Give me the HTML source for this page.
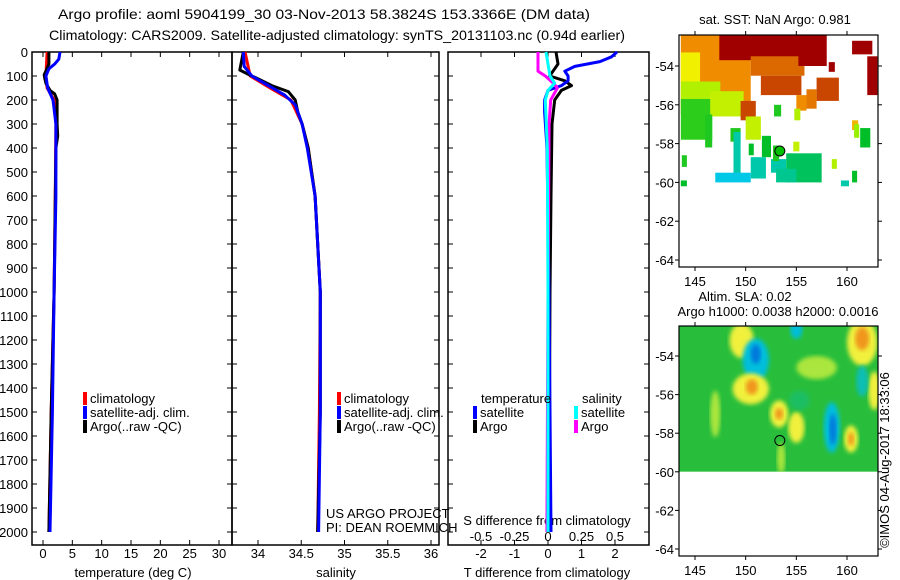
<!DOCTYPE html>
<html><head><meta charset="utf-8"><style>
body{margin:0;background:#fff}
svg{display:block;font-family:"Liberation Sans",sans-serif}
</style></head><body>
<svg id="c" width="900" height="580" viewBox="0 0 900 580" xmlns="http://www.w3.org/2000/svg">
<text x="58" y="19" font-size="14" textLength="532" lengthAdjust="spacingAndGlyphs">Argo profile: aoml 5904199_30 03-Nov-2013 58.3824S 153.3366E (DM data)</text>
<text x="49" y="40" font-size="14" textLength="576" lengthAdjust="spacingAndGlyphs">Climatology: CARS2009. Satellite-adjusted climatology: synTS_20131103.nc (0.94d earlier)</text>
<text x="133" y="577" font-size="13" text-anchor="middle">temperature (deg C)</text>
<text x="336" y="577" font-size="13" text-anchor="middle">salinity</text>
<text x="547" y="577" font-size="13" text-anchor="middle">T difference from climatology</text>
<text x="547" y="525" font-size="13" text-anchor="middle">S difference from climatology</text>
<text x="326" y="518" font-size="13">US ARGO PROJECT</text>
<text x="326" y="532" font-size="13">PI: DEAN ROEMMICH</text>
<text x="775" y="24" font-size="13" text-anchor="middle">sat. SST: NaN Argo: 0.981</text>
<text x="745" y="301" font-size="13" text-anchor="middle">Altim. SLA: 0.02</text>
<text x="778" y="316" font-size="13" text-anchor="middle">Argo h1000: 0.0038 h2000: 0.0016</text>
<text x="0" y="0" font-size="13" text-anchor="middle" transform="translate(889,460) rotate(-90)">©IMOS 04-Aug-2017 18:33:06</text>
<g id="g"></g>
</svg>
<script>
// ---- profile data ----
const tempDepthArgo=[0,50,80,95,110,130,160,175,200,250,300,350,400,600,1000,1500,2000];
const tempArgo=[1.0,1.0,0.5,0.2,0.3,0.5,1.2,2.0,2.4,2.4,2.4,2.5,2.2,2.1,1.9,1.4,1.0];
const tempDepthSat=[0,30,50,70,100,150,200,300,600,1000,1500,2000];
const tempSat=[2.9,2.7,2.0,1.0,0.5,0.8,1.7,2.2,2.2,1.9,1.6,1.2];
const tempDepthClim=[0,100,150,200,300,600,1000,1500,2000];
const tempClim=[0.7,0.5,0.7,1.9,2.2,2.1,1.9,1.4,1.0];
const salDepthArgo=[0,75,90,110,140,165,200,250,300,400,500,600,800,1000,1500,2000];
const salArgo=[33.83,33.79,33.87,33.99,34.16,34.35,34.43,34.46,34.51,34.58,34.62,34.66,34.69,34.72,34.72,34.69];
const salDepthSat=[0,60,100,140,180,220,300,400,600,1000,1500,2000];
const salSat=[33.83,33.84,33.93,34.12,34.31,34.43,34.51,34.57,34.66,34.72,34.72,34.70];
const salDepthClim=[0,100,150,200,300,400,600,1000,1500,2000];
const salClim=[33.85,33.91,34.14,34.38,34.51,34.58,34.66,34.72,34.71,34.69];
const dTDepthSat=[0,20,40,60,80,100,120,140,160,200,250,400,1000,2000];
const dTSat=[2.06,1.9,1.55,0.8,0.5,0.6,0.6,0.4,0,-0.1,-0.1,-0.03,0.03,0.09];
const dTDepthArgo=[0,50,80,100,120,140,160,200,300,600,1000,2000];
const dTArgo=[0.24,0.3,0.15,0.05,0.5,0.7,0.4,0.2,0.12,0.09,0.06,0.03];
const dSDepthSat=[0,100,130,160,200,400,1000,2000];
const dSSat=[-0.015,0.015,0.05,0,-0.02,-0.005,0,0];
const dSDepthArgo=[0,80,100,130,150,200,300,1000,2000];
const dSArgo=[-0.075,-0.075,-0.02,0.04,0.07,0.02,0.008,0,-0.008];
const depthTicks=[0,100,200,300,400,500,600,700,800,900,1000,1100,1200,1300,1400,1500,1600,1700,1800,1900,2000];
const tTicks=[0,5,10,15,20,25,30];
const sTicks=[34,34.5,35,35.5,36];
const dTTicks=[-2,-1,0,1,2];
const dSTicks=[-0.5,-0.25,0,0.25,0.5];
// ---- map data: [lon0, lon1, latTop, latBottom, SST] ----
const sstPatches=[
[143.6,150.5,-52.2,-56.5,7],[147.4,156.0,-52.2,-53.7,9],[150.5,155.8,-53.5,-54.5,7.5],[151.5,155.5,-54.5,-55.5,8],
[143.6,145.5,-53.3,-54.8,6],[143.6,147.5,-54.8,-56.2,5.3],[143.6,146.7,-55.7,-57.8,4.3],[146.5,149.8,-55.3,-56.6,5.5],
[149.5,151,-55.8,-56.8,8],[155.2,158,-52.2,-54.0,9],[160.5,162.5,-52.7,-53.4,9],[162,163,-53.5,-55.5,9],[158.2,158.8,-53.8,-54.3,9],
[157,159.2,-54.6,-55.8,8],[155,156,-55.5,-56.3,7],[156,157,-55.2,-56.2,7.3],[160.5,161.1,-56.8,-57.3,6.6],[152.8,153.5,-56,-56.6,4.2],
[154.8,155.4,-56.2,-56.8,5.3],[150,151.5,-56.6,-57.8,5.5],[148.5,149.5,-57.2,-57.9,4.2],[151.6,152.5,-57.6,-58.7,4.0],
[148.8,149.5,-57.4,-59.8,3.0],[150.3,150.8,-58,-58.6,4.0],[150.5,152,-58.7,-59.8,3],[147,150.5,-59.5,-60,2],[152.5,154,-58.8,-59.5,3],
[154,157.5,-58.5,-60,3.6],[153,155,-59.3,-60,3.2],[154.7,155.3,-57.9,-58.4,5.5],[161.3,162.3,-57.2,-58.2,4.0],[160.7,161.2,-57,-57.7,5],
[143.7,144.2,-58.6,-59.2,4.2],[143.6,144.2,-59.9,-60.2,4],[159.4,160.2,-59.9,-60.2,3],[160.5,161,-59.4,-60,4],[158.5,159,-58.8,-59.3,5.3],
[146,146.7,-56.5,-58.2,4.2],[152.7,153.3,-58.1,-58.9,4.2]];
// SLA blobs: [lon, lat, rxDeg, ryDeg, SLA]
const slaBlobs=[
[149.6,-53.2,1.2,0.9,0.2],[151,-54.2,1.3,1.1,-0.2],[151,-53.9,0.5,0.5,-0.3],[150.5,-55.7,1.8,0.8,0.2],[150.6,-55.6,0.6,0.4,0.3],
[153.3,-57.0,0.9,0.7,0.2],[153.3,-57.0,0.4,0.3,0.3],[155,-57.7,0.8,0.8,0.2],[158.5,-57.7,0.8,1.3,-0.2],[158.6,-57.8,0.35,0.8,-0.3],
[160.4,-58.3,0.7,0.7,0.2],[160.4,-58.3,0.3,0.35,0.3],[161.5,-53.3,1.5,1.2,0.2],[161.5,-53.1,0.7,0.6,0.3],[162.7,-55.8,0.6,1,0.2],
[155,-52.6,0.6,0.5,-0.2],[157,-54.6,2,0.6,0.1],[161.5,-55.3,0.6,0.8,-0.15],[155.3,-56.3,1,0.5,-0.05],[147,-57,0.5,1.2,0.1],[153.5,-59.3,0.4,0.8,0.1]];
const argoLon=153.37, argoLat=-58.38;

const NS='http://www.w3.org/2000/svg';
const G=document.getElementById('g');
function mk(tag,attrs,parent){const e=document.createElementNS(NS,tag);for(const k in attrs)e.setAttribute(k,attrs[k]);(parent||G).appendChild(e);return e;}
const Y0=52,YB=545;
const yD=d=>Y0+d*0.24;
function linear(d0,d1,r0,r1){return v=>r0+(v-d0)*(r1-r0)/(d1-d0);}
const xT=linear(0,30,43,219), xS=linear(34,36,258,431), xDT=linear(0,1,548,581.5), xDS=linear(0,0.25,548,581.5);

function panel(name,x0,x1,ticks,xf,labels){
  const r=mk('rect',{x:x0,y:Y0,width:x1-x0,height:YB-Y0,fill:'none',stroke:'#000','stroke-width':1.5});
  
  
  depthTicks.forEach(d=>{
    mk('line',{x1:x0,x2:x0+5,y1:yD(d),y2:yD(d),stroke:'#000'});
    mk('line',{x1:x1,x2:x1-5,y1:yD(d),y2:yD(d),stroke:'#000'});
  });
  ticks.forEach(v=>{
    mk('line',{x1:xf(v),x2:xf(v),y1:YB,y2:YB-5,stroke:'#000'});
    mk('line',{x1:xf(v),x2:xf(v),y1:Y0,y2:Y0+5,stroke:'#000'});
    if(labels){const t=mk('text',{x:xf(v),y:labels,'font-size':13,'text-anchor':'middle'});t.textContent=String(v);
      
      }
  });
}
function series(name,depths,vals,xf,color,w){
  const p=mk('polyline',{points:depths.map((d,i)=>xf(vals[i]).toFixed(1)+','+yD(d).toFixed(1)).join(' '),fill:'none',stroke:color,'stroke-width':w||3,'stroke-linejoin':'round'});
  
  
}
panel('temperature-panel',32,232,tTicks,xT,558);
panel('salinity-panel',232,439,sTicks,xS,558);
panel('difference-panel',448,649,dTTicks,xDT,558);
dSTicks.forEach(v=>{const t=mk('text',{x:xDS(v),y:541,'font-size':13,'text-anchor':'middle'});t.textContent=String(v);
  
  });
depthTicks.forEach(d=>{const t=mk('text',{x:28,y:yD(d)+5,'font-size':13,'text-anchor':'end'});t.textContent=String(d);
  
  });

series('temp-climatology-line',tempDepthClim,tempClim,xT,'#f00');
series('temp-argo-line',tempDepthArgo,tempArgo,xT,'#000');
series('temp-satellite-line',tempDepthSat,tempSat,xT,'#00f');
series('sal-climatology-line',salDepthClim,salClim,xS,'#f00');
series('sal-argo-line',salDepthArgo,salArgo,xS,'#000');
series('sal-satellite-line',salDepthSat,salSat,xS,'#00f');
series('dT-argo-line',dTDepthArgo,dTArgo,xDT,'#000');
series('dT-satellite-line',dTDepthSat,dTSat,xDT,'#00f');
series('dS-argo-line',dSDepthArgo,dSArgo,xDS,'#f0f');
series('dS-satellite-line',dSDepthSat,dSSat,xDS,'#0ff');

function legend(x,y,color,label,name){
  const r=mk('rect',{x:x,y:y-11,width:4,height:13,fill:color});
  
  
  const t=mk('text',{x:x+7,y:y,'font-size':13});t.textContent=label;
  
  
}
legend(83,403,'#f00','climatology','legend-climatology');
legend(83,417,'#00f','satellite-adj. clim.','legend-satellite');
legend(83,431,'#000','Argo(..raw -QC)','legend-argo');
legend(337,403,'#f00','climatology','legend2-climatology');
legend(337,417,'#00f','satellite-adj. clim.','legend2-satellite');
legend(337,431,'#000','Argo(..raw -QC)','legend2-argo');
{const t=mk('text',{x:481,y:403,'font-size':13});t.textContent='temperature';
 
 
 const s=mk('text',{x:582,y:403,'font-size':13});s.textContent='salinity';
 
 }
legend(473,417,'#00f','satellite','legend-t-satellite');
legend(473,431,'#000','Argo','legend-t-argo');
legend(574,417,'#0ff','satellite','legend-s-satellite');
legend(574,431,'#f0f','Argo','legend-s-argo');

// ---- maps ----
const MX0=679,MX1=878;
const lonX=linear(145,160,695,847);
function cmap(v,stops){for(let i=0;i<stops.length-1;i++){if(v<=stops[i+1][0]){const a=stops[i],b=stops[i+1],f=(v-a[0])/(b[0]-a[0]);
  return 'rgb('+[1,2,3].map(k=>Math.round(a[k]+(b[k]-a[k])*Math.max(0,Math.min(1,f)))).join(',')+')';}}const l=stops[stops.length-1];return 'rgb('+l[1]+','+l[2]+','+l[3]+')';}
const sstStops=[[2,0,200,230],[3,0,200,170],[4,0,190,40],[5,150,240,0],[6,240,240,0],[7,240,140,0],[8,200,70,0],[9,160,0,0]];
const slaStops=[[-0.3,0,120,220],[-0.2,0,190,220],[0,40,190,60],[0.1,170,230,60],[0.2,240,240,60],[0.3,240,150,30]];
function mapFrame(name,top,bot,latY){
  const r=mk('rect',{x:MX0,y:top,width:MX1-MX0,height:bot-top,fill:'none',stroke:'#000','stroke-width':1.2});
  
  
  [145,150,155,160].forEach(l=>{mk('line',{x1:lonX(l),x2:lonX(l),y1:bot,y2:bot+4,stroke:'#000'});mk('line',{x1:lonX(l),x2:lonX(l),y1:top,y2:top-4,stroke:'#000'});
    const t=mk('text',{x:lonX(l),y:bot+19,'font-size':13,'text-anchor':'middle'});t.textContent=String(l);
    
    });
  [-54,-56,-58,-60,-62,-64].forEach(l=>{mk('line',{x1:MX0,x2:MX0-4,y1:latY(l),y2:latY(l),stroke:'#000'});mk('line',{x1:MX1,x2:MX1+4,y1:latY(l),y2:latY(l),stroke:'#000'});
    const t=mk('text',{x:674,y:latY(l)+5,'font-size':13,'text-anchor':'end'});t.textContent=String(l);
    
    });
}
const latY1=linear(-54,-64,66,260);
const c1=mk('clipPath',{id:'cl1'});mk('rect',{x:MX0,y:35,width:MX1-MX0,height:232},c1);
const g1=mk('g',{'clip-path':'url(#cl1)'});


sstPatches.forEach(p=>{const r=mk('rect',{x:lonX(p[0]),y:latY1(p[2]),width:lonX(p[1])-lonX(p[0]),height:latY1(p[3])-latY1(p[2]),fill:cmap(p[4],sstStops)},g1);
  
  });
{const c=mk('circle',{cx:lonX(argoLon),cy:latY1(argoLat),r:5,fill:'#00c000',stroke:'#000','stroke-width':1},g1);
 
 }
mapFrame('sst-map',35,267,latY1);

const latY2=linear(-54,-64,356,549);
const c2=mk('clipPath',{id:'cl2'});mk('rect',{x:MX0,y:326,width:MX1-MX0,height:latY2(-60)-326},c2);
const g2=mk('g',{'clip-path':'url(#cl2)'});


mk('rect',{x:MX0,y:326,width:MX1-MX0,height:latY2(-60)-326,fill:cmap(0,slaStops)},g2);
const bl=mk('filter',{id:'blr'});mk('feGaussianBlur',{stdDeviation:2},bl);
slaBlobs.forEach(b=>{const e=mk('ellipse',{cx:lonX(b[0]),cy:latY2(b[1]),rx:b[2]*10.13,ry:b[3]*19.4,fill:cmap(b[4],slaStops),filter:'url(#blr)'},g2);
  
  });
{const c=mk('circle',{cx:lonX(argoLon),cy:latY2(argoLat),r:5,fill:'none',stroke:'#000','stroke-width':1},g2);
 
 }
mapFrame('sla-map',326,556,latY2);
</script>
</body></html>
